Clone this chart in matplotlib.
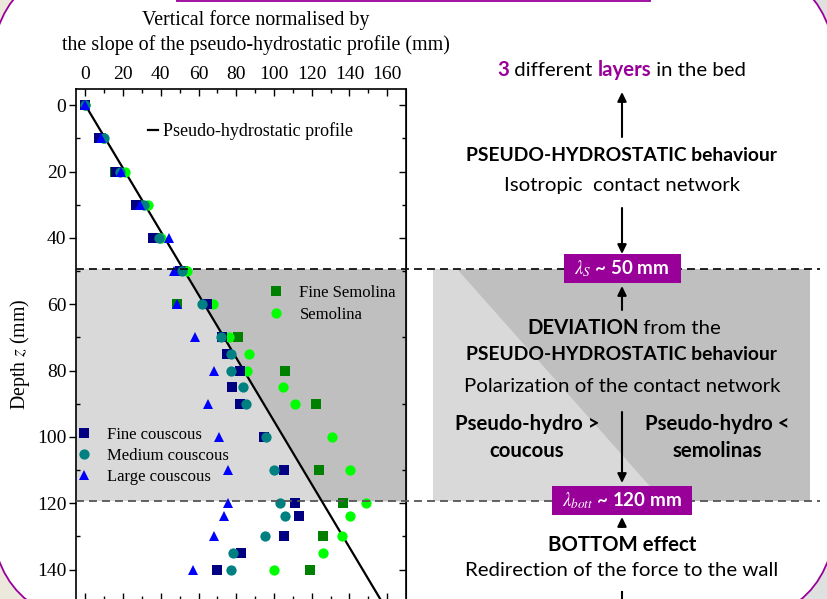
import numpy as np
import matplotlib
matplotlib.use('Agg')
import matplotlib.pyplot as plt
import matplotlib.transforms as mtransforms
from matplotlib.patches import FancyBboxPatch, Rectangle, Polygon, FancyArrowPatch
from matplotlib.lines import Line2D

plt.rcParams['font.family'] = ['Liberation Serif', 'DejaVu Serif']
plt.rcParams['mathtext.fontset'] = 'stix'

# depth z (mm) and normalised vertical force (mm)
depth = [0, 10, 20, 30, 40, 50, 60, 70, 75, 80, 85, 90, 100, 110, 120, 124, 130, 135, 140]
nan = np.nan
fine_couscous = [0, 7, 16, 27, 36, 50, 64.5, 72.5, 75, 82, 77.5, 82, 94.5, 105.5, 111, 113, 105.5, 82.5, 70]
medium_couscous = [0, 10, 18.5, 31, 39, 51, 62, 72, 77, 77, 83.5, 85, 95.5, 100, 103, 106, 95, 78.5, 77]
large_couscous = [0, 8.5, 19, 29, 44.5, 47, 48.5, 58, nan, 68, nan, 65, 71, 75.5, 75.5, 73.5, 68, nan, 57]
fine_semolina = [0, 8, 15.5, 28, 37, 52, 48.5, 81, nan, 106, nan, 122.5, nan, 124, 136.5, nan, 126, nan, 119]
semolina = [0, 9.5, 21, 33, 40, 54, 67.5, 76, 86.5, 85.5, 105, 111, 131, 140.5, 149, 140.5, 136, 126, 100]

hydro_depth = [0, 150]
hydro_force = [0, 157.5]

lambda_s = 49.3
lambda_bott = 119.3

purple = '#990099'
W, H = 827, 599

def fx(p):
    return p / W

def fy(p):
    return 1 - p / H

fig = plt.figure(figsize=(W / 100, H / 100), dpi=100)
fig.patch.set_facecolor('#ece9dc')

# slide background
fig.add_artist(Rectangle((0.5, 0), 0.5, 1, transform=fig.transFigure,
                         fc='#dfe1e0', ec='none', zorder=-20))
fig.add_artist(FancyBboxPatch((-0.10, -0.25), 8.47, 6.62,
                              boxstyle='round,pad=0,rounding_size=1.2',
                              transform=fig.dpi_scale_trans,
                              fc='white', ec=purple, lw=1.3, zorder=-10))
fig.add_artist(Rectangle((1.77, 5.978), 4.73, 0.4, transform=fig.dpi_scale_trans,
                         fc='white', ec=purple, lw=1.3, zorder=-9))

ax = fig.add_axes([fx(76), -0.0017, fx(330), 0.8536])
ax.set_xlim(-5, 170)
ax.set_ylim(149.2, -5)

# layer shading
ax.axhspan(lambda_s, lambda_bott, color='#d9d9d9', lw=0, zorder=0)
band = np.array([lambda_s, lambda_bott])
ax.fill_betweenx(band, np.interp(band, hydro_depth, hydro_force), 170,
                 color='#bfbfbf', lw=0, zorder=0.5)

ax.plot(hydro_force, hydro_depth, color='black', lw=1.6, zorder=2)

ms = 7.4
h_fs, = ax.plot(fine_semolina, depth, 's', color='#008000', ms=ms, mew=0, zorder=3)
h_s, = ax.plot(semolina, depth, 'o', color='#00ff00', ms=ms, mew=0, zorder=3)
h_fc, = ax.plot(fine_couscous, depth, 's', color='#000080', ms=ms, mew=0, zorder=3)
h_mc, = ax.plot(medium_couscous, depth, 'o', color='#008080', ms=ms, mew=0, zorder=3)
h_lc, = ax.plot(large_couscous, depth, '^', color='#0000ff', ms=7.8, mew=0, zorder=3)

# ticks
ax.xaxis.tick_top()
ax.set_xticks(np.arange(0, 161, 20))
ax.set_xticks(np.arange(10, 161, 20), minor=True)
ax.tick_params(axis='x', which='both', direction='in', top=True, bottom=True,
               labeltop=True, labelbottom=False, labelsize=14, pad=4)
ax.tick_params(axis='x', which='major', length=5, width=1)
ax.tick_params(axis='x', which='minor', length=3, width=1)
ax.set_yticks(np.arange(0, 141, 20))
ax.set_yticks(np.arange(10, 150, 20), minor=True)
ax.tick_params(axis='y', which='major', direction='out', left=True, right=False,
               length=5, width=1, labelsize=14, pad=2)
ax.tick_params(axis='y', which='minor', direction='in', left=True, right=True,
               length=3, width=1)
sec = ax.secondary_yaxis('right')
sec.set_yticks(np.arange(0, 141, 20))
sec.tick_params(direction='in', length=5, width=1, labelright=False)
for s in ax.spines.values():
    s.set_linewidth(1.2)

ax.set_xlabel('Vertical force normalised by\nthe slope of the pseudo-hydrostatic profile (mm)',
              fontsize=14.4, linespacing=1.35)
ax.xaxis.set_label_position('top')
ax.xaxis.set_label_coords(0.545, 1.076)
ax.set_ylabel(r'Depth $z$ (mm)', fontsize=14.3)
ax.yaxis.set_label_coords(-0.133, 0.481)

# legends
leg_kw = dict(frameon=False, borderpad=0, borderaxespad=0, fontsize=12,
              numpoints=1, handletextpad=0.88, handlelength=1.0)
leg1 = ax.legend([Line2D([], [], color='black', lw=1.6)], ['Pseudo-hydrostatic profile'],
                 loc='center left', bbox_to_anchor=(0.218, 0.917),
                 frameon=False, borderpad=0, borderaxespad=0, fontsize=13,
                 handlelength=0.55, handletextpad=0.3)
ax.add_artist(leg1)
leg2 = ax.legend([h_fs, h_s], ['Fine Semolina', 'Semolina'], loc='center left',
                 bbox_to_anchor=(0.582, 0.579), labelspacing=0.32, **leg_kw)
ax.add_artist(leg2)
ax.legend([h_fc, h_mc, h_lc], ['Fine couscous', 'Medium couscous', 'Large couscous'],
          loc='center left', bbox_to_anchor=(-0.001, 0.2816), labelspacing=0.30, **leg_kw)

# layer limits across the slide
trans = mtransforms.blended_transform_factory(fig.transFigure, ax.transData)
fig.add_artist(Line2D([fx(76), fx(820)], [lambda_s, lambda_s], transform=trans,
                      color='#111111', lw=1.3, ls=(0, (4.4, 2.8)), zorder=5))
fig.add_artist(Line2D([fx(76), fx(820)], [lambda_bott, lambda_bott], transform=trans,
                      color='#555555', lw=1.3, ls=(0, (4.4, 2.8)), zorder=5))

# right panel shading
fig.add_artist(Polygon([(fx(433), lambda_s), (fx(810), lambda_s), (fx(810), lambda_bott),
                        (fx(433), lambda_bott)], closed=True, transform=trans,
                       fc='#d9d9d9', ec='none', zorder=-5))
fig.add_artist(Polygon([(fx(457), lambda_s), (fx(810), lambda_s), (fx(810), lambda_bott),
                        (fx(663), lambda_bott)], closed=True, transform=trans,
                       fc='#bfbfbf', ec='none', zorder=-4))

sans = 'Lato'
fs = 14.7
fs_caps = 13.9
cx = fx(622)
renderer = fig.canvas.get_renderer()

def chain(pieces, x0, y0):
    x = x0
    for txt, col, wt in pieces:
        t = fig.text(x, y0, txt, color=col, fontweight=wt, family=sans,
                     fontsize=fs, ha='left', va='baseline')
        x += t.get_window_extent(renderer).width / W

chain([('3', purple, 'bold'), (' different ', 'black', 'normal'),
       ('layers', purple, 'bold'), (' in the bed', 'black', 'normal')], fx(497), fy(76))
fig.text(cx, fy(155), 'PSEUDO-HYDROSTATIC behaviour', family=sans, fontsize=fs_caps,
         fontweight='bold', ha='center', va='center')
fig.text(cx, fy(185), 'Isotropic  contact network', family=sans, fontsize=fs,
         ha='center', va='center')
chain([('DEVIATION', 'black', 'bold'), (' from the', 'black', 'normal')], fx(527), fy(334))
fig.text(cx, fy(354), 'PSEUDO-HYDROSTATIC behaviour', family=sans, fontsize=fs_caps,
         fontweight='bold', ha='center', va='center')
fig.text(cx, fy(386), 'Polarization of the contact network', family=sans, fontsize=fs,
         ha='center', va='center')
fig.text(fx(527), fy(424), 'Pseudo-hydro >', family=sans, fontsize=fs,
         fontweight='bold', ha='center', va='center')
fig.text(fx(527), fy(451), 'coucous', family=sans, fontsize=fs,
         fontweight='bold', ha='center', va='center')
fig.text(fx(717), fy(424), 'Pseudo-hydro <', family=sans, fontsize=fs,
         fontweight='bold', ha='center', va='center')
fig.text(fx(717), fy(451), 'semolinas', family=sans, fontsize=fs,
         fontweight='bold', ha='center', va='center')
fig.text(cx, fy(545), 'BOTTOM effect', family=sans, fontsize=fs,
         fontweight='bold', ha='center', va='center')
fig.text(cx, fy(571), 'Redirection of the force to the wall', family=sans, fontsize=fs,
         ha='center', va='center')

# arrows
def arrow(y_from, y_to):
    fig.add_artist(FancyArrowPatch((cx, fy(y_from)), (cx, fy(y_to)), transform=fig.transFigure,
                                   arrowstyle='-|>,head_length=0.45,head_width=0.22',
                                   mutation_scale=12, lw=1.5, color='black',
                                   shrinkA=0, shrinkB=0, zorder=4))

arrow(137, 92)
arrow(208, 254)
arrow(310, 286)
arrow(412, 483)
arrow(527, 517)
fig.add_artist(Line2D([cx, cx], [fy(592), fy(602)], transform=fig.transFigure,
                      color='black', lw=1.5))

# purple tags on the layer limits
for z, w, label in [(lambda_s, 1.17, r'$\lambda_{S}$ ~ 50 mm'),
                    (lambda_bott, 1.40, r'$\lambda_{bott}$ ~ 120 mm')]:
    tr = fig.dpi_scale_trans + mtransforms.ScaledTranslation(cx, z, trans)
    fig.add_artist(Rectangle((-w / 2, -0.145), w, 0.29, transform=tr,
                             fc=purple, ec='none', zorder=6))
    fig.text(cx, z, label, transform=trans, color='white', family=sans, fontsize=13.5,
             fontweight='bold', ha='center', va='center', zorder=7)

fig.savefig('out.png', dpi=100, facecolor=fig.get_facecolor())
